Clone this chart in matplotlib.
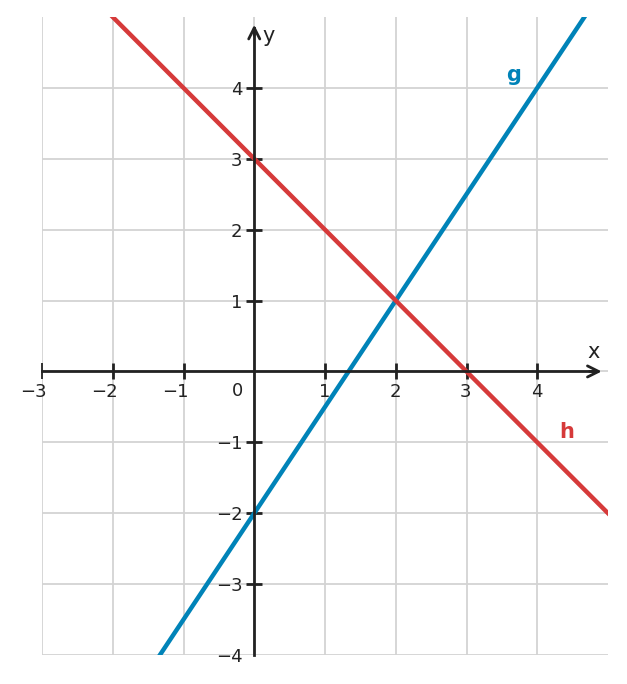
import matplotlib
matplotlib.use('Agg')
import numpy as np
from matplotlib import pyplot as plt
from matplotlib.transforms import ScaledTranslation

# points on the two lines
g_x = [-3, 5]
g_y = [-6.5, 5.5]
h_x = [-3, 5]
h_y = [6, -2]

x_ticks = [-3, -2, -1, 1, 2, 3, 4]
y_ticks = [-4, -3, -2, -1, 1, 2, 3, 4]

blue = '#0083b8'
red = '#d63a3a'
dark = '#222222'

fig = plt.figure(figsize=(6.27, 6.84), dpi=100)
ax = fig.add_axes([42/627, 1-655/684, (608-42)/627, (655-17)/684])
ax.set_xlim(-3, 5)
ax.set_ylim(-4, 5)

# grid
for xv in range(-3, 5):
    ax.axvline(xv, color='#d3d3d3', lw=1.3, zorder=0)
for yv in range(-4, 5):
    ax.axhline(yv, color='#d3d3d3', lw=1.3, zorder=0)

ax.plot(g_x, g_y, color=blue, lw=3.2, zorder=3)
ax.plot(h_x, h_y, color=red, lw=3.2, zorder=3)

ax.text(3.67, 4.18, 'g', color=blue, fontsize=15, fontweight='bold', ha='center', va='center')
ax.text(4.41, -0.85, 'h', color=red, fontsize=15, fontweight='bold', ha='center', va='center')

# axes
for s in ['top', 'right']:
    ax.spines[s].set_visible(False)
ax.spines['left'].set_position(('data', 0))
ax.spines['bottom'].set_position(('data', 0))
ax.spines['left'].set_bounds(-4, 4.85)
ax.spines['bottom'].set_bounds(-3, 4.85)
for s in ['left', 'bottom']:
    ax.spines[s].set_color(dark)
    ax.spines[s].set_linewidth(2)
    ax.spines[s].set_zorder(4)

ax.annotate('', xy=(4.95, 0), xytext=(4.7, 0),
            arrowprops=dict(arrowstyle='->', color=dark, lw=2, mutation_scale=20), zorder=5)
ax.annotate('', xy=(0, 4.93), xytext=(0, 4.7),
            arrowprops=dict(arrowstyle='->', color=dark, lw=2, mutation_scale=20), zorder=5)

ax.set_xticks(x_ticks)
ax.set_yticks(y_ticks)
ax.set_xticklabels([str(v).replace('-', '\u2212') for v in x_ticks])
ax.set_yticklabels([str(v).replace('-', '\u2212') for v in y_ticks])
ax.tick_params(direction='inout', length=11, width=2, color=dark,
               labelsize=13, labelcolor=dark, pad=3)
for lab in ax.get_xticklabels():
    lab.set_ha('right')
    lab.set_transform(lab.get_transform() + ScaledTranslation(5/100, 0, fig.dpi_scale_trans))

# the end ticks are drawn lighter in the reference
ax.yaxis.get_major_ticks()[0].tick1line.set_visible(False)
ax.xaxis.get_major_ticks()[0].tick1line.set_markeredgewidth(1.3)

ax.text(-0.23, -0.27, '0', fontsize=13, color=dark, ha='center', va='center')
ax.text(4.79, 0.28, 'x', fontsize=15, color=dark, ha='center', va='center')
ax.text(0.2, 4.73, 'y', fontsize=15, color=dark, ha='center', va='center')

plt.savefig('out.png', dpi=100)
